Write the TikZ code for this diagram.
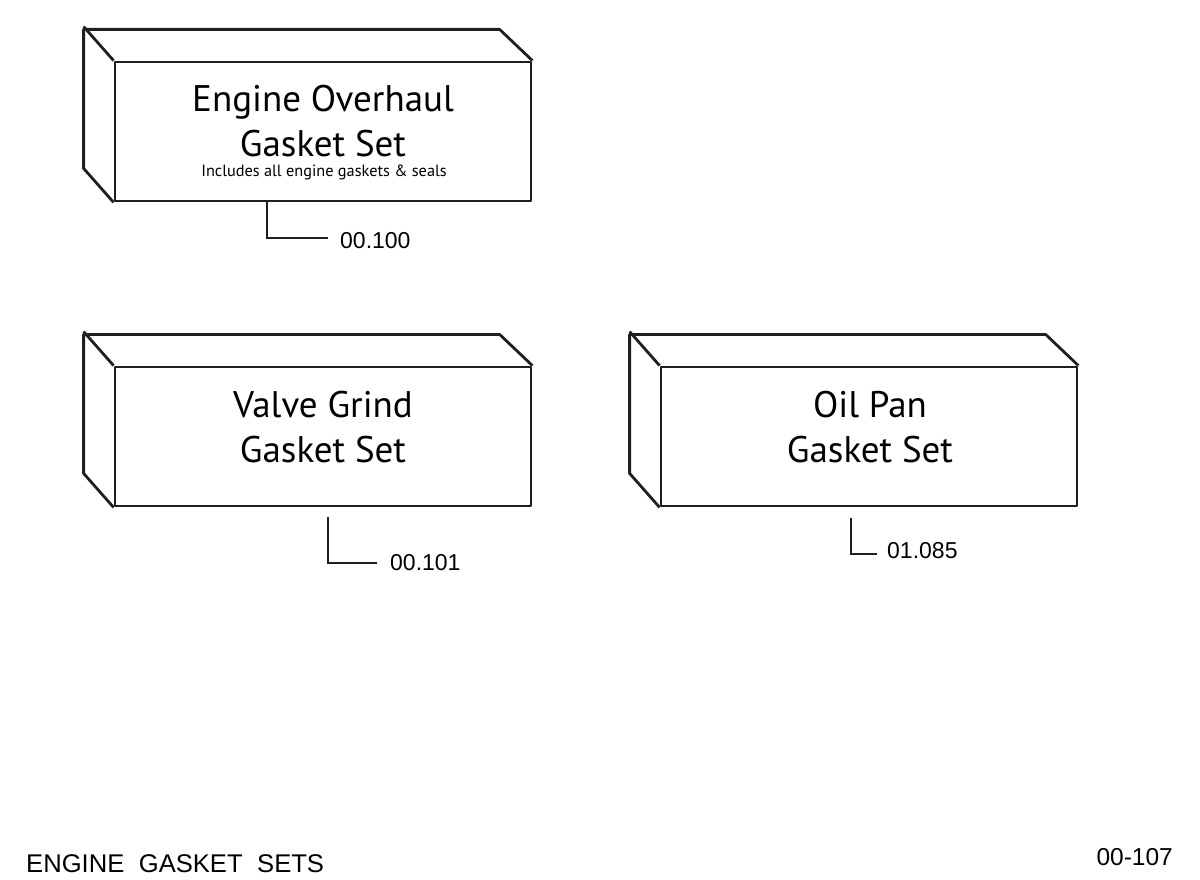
\documentclass[tikz,border=0pt]{standalone}
\usepackage{fontspec}
\setmainfont{Liberation Sans}
\newfontfamily\boxfont{PT Sans}
\begin{document}
\begin{tikzpicture}[x=1pt,y=-1pt,
  face/.style={draw=black!88,line width=2.8pt,minimum width=416pt,minimum height=139pt,inner sep=0pt,line join=round},
  side/.style={draw=black!88,line width=2.8pt,line join=round},
  lead/.style={draw=black!88,line width=2.8pt},
  big/.style={font=\boxfont\fontsize{37}{37}\selectfont,inner sep=0pt,anchor=base},
  small/.style={font=\boxfont\fontsize{16.3}{16.3}\selectfont,inner sep=0pt,anchor=base},
  num/.style={font=\fontsize{23}{23}\selectfont,inner sep=0pt,anchor=base west},
  foot/.style={font=\fontsize{25.6}{25.6}\selectfont,inner sep=0pt}
]
\useasboundingbox (0,0) rectangle (1200,880);
\fill[white] (0,0) rectangle (1200,880);

% box 1
\node[face] (f1) at (323,131.5) {};
\draw[side] (f1.south west) -- ++(-30,-34) -- ++(0,-139) -- ++(416,0) -- (f1.north east);
\draw[side] (f1.north west) -- ++(-30,-34);
\node[big] (t1a) at (323,112) {Engine Overhaul};
\node[big] (t1b) at (323,157) {Gasket Set};
\node[small] (t1c) at (324,177) {Includes all engine gaskets \& seals};

% box 2
\node[face] (f2) at (323,436.5) {};
\draw[side] (f2.south west) -- ++(-30,-34) -- ++(0,-139) -- ++(416,0) -- (f2.north east);
\draw[side] (f2.north west) -- ++(-30,-34);
\node[big] (t2a) at (323,417) {Valve Grind};
\node[big] (t2b) at (323,462) {Gasket Set};

% box 3
\node[face] (f3) at (869,436.5) {};
\draw[side] (f3.south west) -- ++(-30,-34) -- ++(0,-139) -- ++(416,0) -- (f3.north east);
\draw[side] (f3.north west) -- ++(-30,-34);
\node[big] (t3a) at (870,417) {Oil Pan};
\node[big] (t3b) at (870,462) {Gasket Set};

% labels and leaders
\node[num] (n1) at (340,248) {00.100};
\coordinate (c1) at (267,238);
\draw[lead] (f1.south -| c1) -- (c1) -- ([xshift=-12pt]n1.west |- c1);

\node[num] (n2) at (390,570) {00.101};
\coordinate (c2) at (328,563);
\draw[lead] ([yshift=-10pt]f2.south -| c2) -- (c2) -- ([xshift=-13pt]n2.west |- c2);

\node[num] (n3) at (887,558) {01.085};
\coordinate (c3) at (851,554);
\draw[lead] ([yshift=-11pt]f3.south -| c3) -- (c3) -- ([xshift=-10pt]n3.west |- c3);

% footer
\node[foot,anchor=base west] (title) at (26,872) {ENGINE\hspace{14.5pt}GASKET\hspace{14.5pt}SETS};
\node[foot,font=\fontsize{24.5}{24.5}\selectfont,anchor=base east] (code) at (1173,865) {00-107};
\end{tikzpicture}
\end{document}
